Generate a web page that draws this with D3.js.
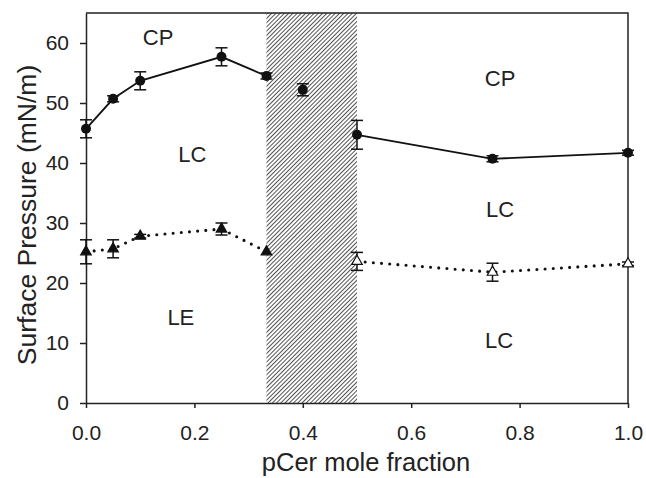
<!DOCTYPE html>
<html>
<head>
<meta charset="utf-8">
<script src="https://cdn.jsdelivr.net/npm/d3@7"></script>
<style>
    body { margin: 0; background: #fff; }
    text { font-family: "Liberation Sans", Arial, Helvetica, sans-serif; fill: #222; }
</style>
</head>
<body>
<svg id="chart" width="646" height="478"></svg>
<script>
// upper boundary (circles, solid line)
var circleX = [0, 0.05, 0.1, 0.25, 0.333, 0.4, 0.5, 0.75, 1.0];
var circleY = [45.7, 50.7, 53.7, 57.7, 54.5, 52.2, 44.7, 40.7, 41.7];
var circleErr = [1.5, 0.5, 1.5, 1.5, 0.5, 1.0, 2.4, 0.5, 0.4];
var circleSegments = [[0, 1, 2, 3, 4], [6, 7, 8]];

// lower boundary (triangles, dotted line)
var triX = [0, 0.05, 0.1, 0.25, 0.333, 0.5, 0.75, 1.0];
var triY = [25.2, 25.7, 27.8, 29.0, 25.2, 23.6, 21.8, 23.2];
var triErr = [2.0, 1.5, 0.3, 1.0, 0, 1.5, 1.5, 0.3];
var triFilled = [true, true, true, true, true, false, false, false];
var triSegments = [[0, 1, 2, 3, 4], [5, 6, 7]];

var hatchRange = [0.333, 0.5];

var xTicks = [0, 0.2, 0.4, 0.6, 0.8, 1.0];
var yTicks = [0, 10, 20, 30, 40, 50, 60];

var regionText = ["CP", "LC", "LE", "CP", "LC", "LC"];
var regionX = [0.133, 0.196, 0.175, 0.764, 0.764, 0.762];
var regionY = [59.7, 40.2, 13.0, 52.9, 31.0, 9.2];

var svg = d3.select("#chart");
var plotLeft = 86, plotRight = 628, plotTop = 13, plotBottom = 403;

var x = d3.scaleLinear().domain([0, 1]).range([plotLeft, plotRight]);
var y = d3.scaleLinear().domain([0, 65]).range([plotBottom, plotTop]);

// hatch pattern for the two-phase region
var defs = svg.append("defs");
defs.append("pattern")
    .attr("id", "hatch")
    .attr("patternUnits", "userSpaceOnUse")
    .attr("width", 3)
    .attr("height", 10)
    .attr("patternTransform", "rotate(45)")
    .append("line")
    .attr("x1", 0.5).attr("y1", 0)
    .attr("x2", 0.5).attr("y2", 10)
    .attr("stroke", "#333")
    .attr("stroke-width", 0.85);

svg.append("rect")
    .attr("x", x(hatchRange[0]))
    .attr("y", y(65))
    .attr("width", x(hatchRange[1]) - x(hatchRange[0]))
    .attr("height", y(0) - y(65))
    .attr("fill", "url(#hatch)");

// frame
svg.append("path")
    .attr("d", "M" + plotLeft + "," + y(65) + "H" + plotRight + "V" + plotBottom)
    .attr("fill", "none")
    .attr("stroke", "#222")
    .attr("stroke-width", 1.5);

var xAxis = d3.axisBottom(x).tickValues(xTicks).tickFormat(d3.format(".1f"))
    .tickSize(5).tickSizeOuter(0).tickPadding(17);
var yAxis = d3.axisLeft(y).tickValues(yTicks)
    .tickSize(6).tickSizeOuter(0).tickPadding(11);

var gx = svg.append("g").attr("transform", "translate(0," + plotBottom + ")").call(xAxis);
var gy = svg.append("g").attr("transform", "translate(" + plotLeft + ",0)").call(yAxis);

[gx, gy].forEach(function(g) {
    g.attr("font-size", null).attr("font-family", null);
    g.selectAll("path, line").attr("stroke", "#222").attr("stroke-width", 1.5);
    g.selectAll("text").style("font-size", "21px").attr("fill", "#222");
});

svg.append("text")
    .attr("x", 366)
    .attr("y", 471)
    .attr("text-anchor", "middle")
    .style("font-size", "25.5px")
    .text("pCer mole fraction");

svg.append("text")
    .attr("transform", "translate(36,215) rotate(-90)")
    .attr("text-anchor", "middle")
    .style("font-size", "26.5px")
    .text("Surface Pressure (mN/m)");

// region labels
regionText.forEach(function(t, i) {
    svg.append("text")
        .attr("x", x(regionX[i]))
        .attr("y", y(regionY[i]))
        .attr("text-anchor", "middle")
        .style("font-size", "22px")
        .text(t);
});

var line = d3.line()
    .x(function(d) { return x(d[0]); })
    .y(function(d) { return y(d[1]); });

// solid line
circleSegments.forEach(function(seg) {
    svg.append("path")
        .datum(seg.map(function(i) { return [circleX[i], circleY[i]]; }))
        .attr("fill", "none")
        .attr("stroke", "#111")
        .attr("stroke-width", 1.8)
        .attr("d", line);
});

// dotted line
triSegments.forEach(function(seg) {
    svg.append("path")
        .datum(seg.map(function(i) { return [triX[i], triY[i]]; }))
        .attr("fill", "none")
        .attr("stroke", "#111")
        .attr("stroke-width", 3.1)
        .attr("stroke-linecap", "round")
        .attr("stroke-dasharray", "0 8.2")
        .attr("d", line);
});

function errorBars(xs, ys, errs) {
    var g = svg.append("g").attr("stroke", "#111").attr("stroke-width", 1.5);
    xs.forEach(function(xv, i) {
        if (!errs[i]) return;
        var cx = x(xv), y1 = y(ys[i] + errs[i]), y2 = y(ys[i] - errs[i]);
        g.append("line").attr("x1", cx).attr("x2", cx).attr("y1", y1).attr("y2", y2);
        g.append("line").attr("x1", cx - 6).attr("x2", cx + 6).attr("y1", y1).attr("y2", y1);
        g.append("line").attr("x1", cx - 6).attr("x2", cx + 6).attr("y1", y2).attr("y2", y2);
    });
}

errorBars(circleX, circleY, circleErr);
errorBars(triX, triY, triErr);

svg.selectAll(".circ")
    .data(circleX)
    .enter()
    .append("circle")
    .attr("class", "circ")
    .attr("cx", function(d) { return x(d); })
    .attr("cy", function(d, i) { return y(circleY[i]); })
    .attr("r", 5)
    .attr("fill", "#111");

var tri = d3.symbol().type(d3.symbolTriangle).size(48);
svg.selectAll(".tri")
    .data(triX)
    .enter()
    .append("path")
    .attr("class", "tri")
    .attr("d", tri)
    .attr("transform", function(d, i) { return "translate(" + x(d) + "," + y(triY[i]) + ")"; })
    .attr("fill", function(d, i) { return triFilled[i] ? "#111" : "#fff"; })
    .attr("stroke", "#111")
    .attr("stroke-width", 1.2);
</script>
</body>
</html>
